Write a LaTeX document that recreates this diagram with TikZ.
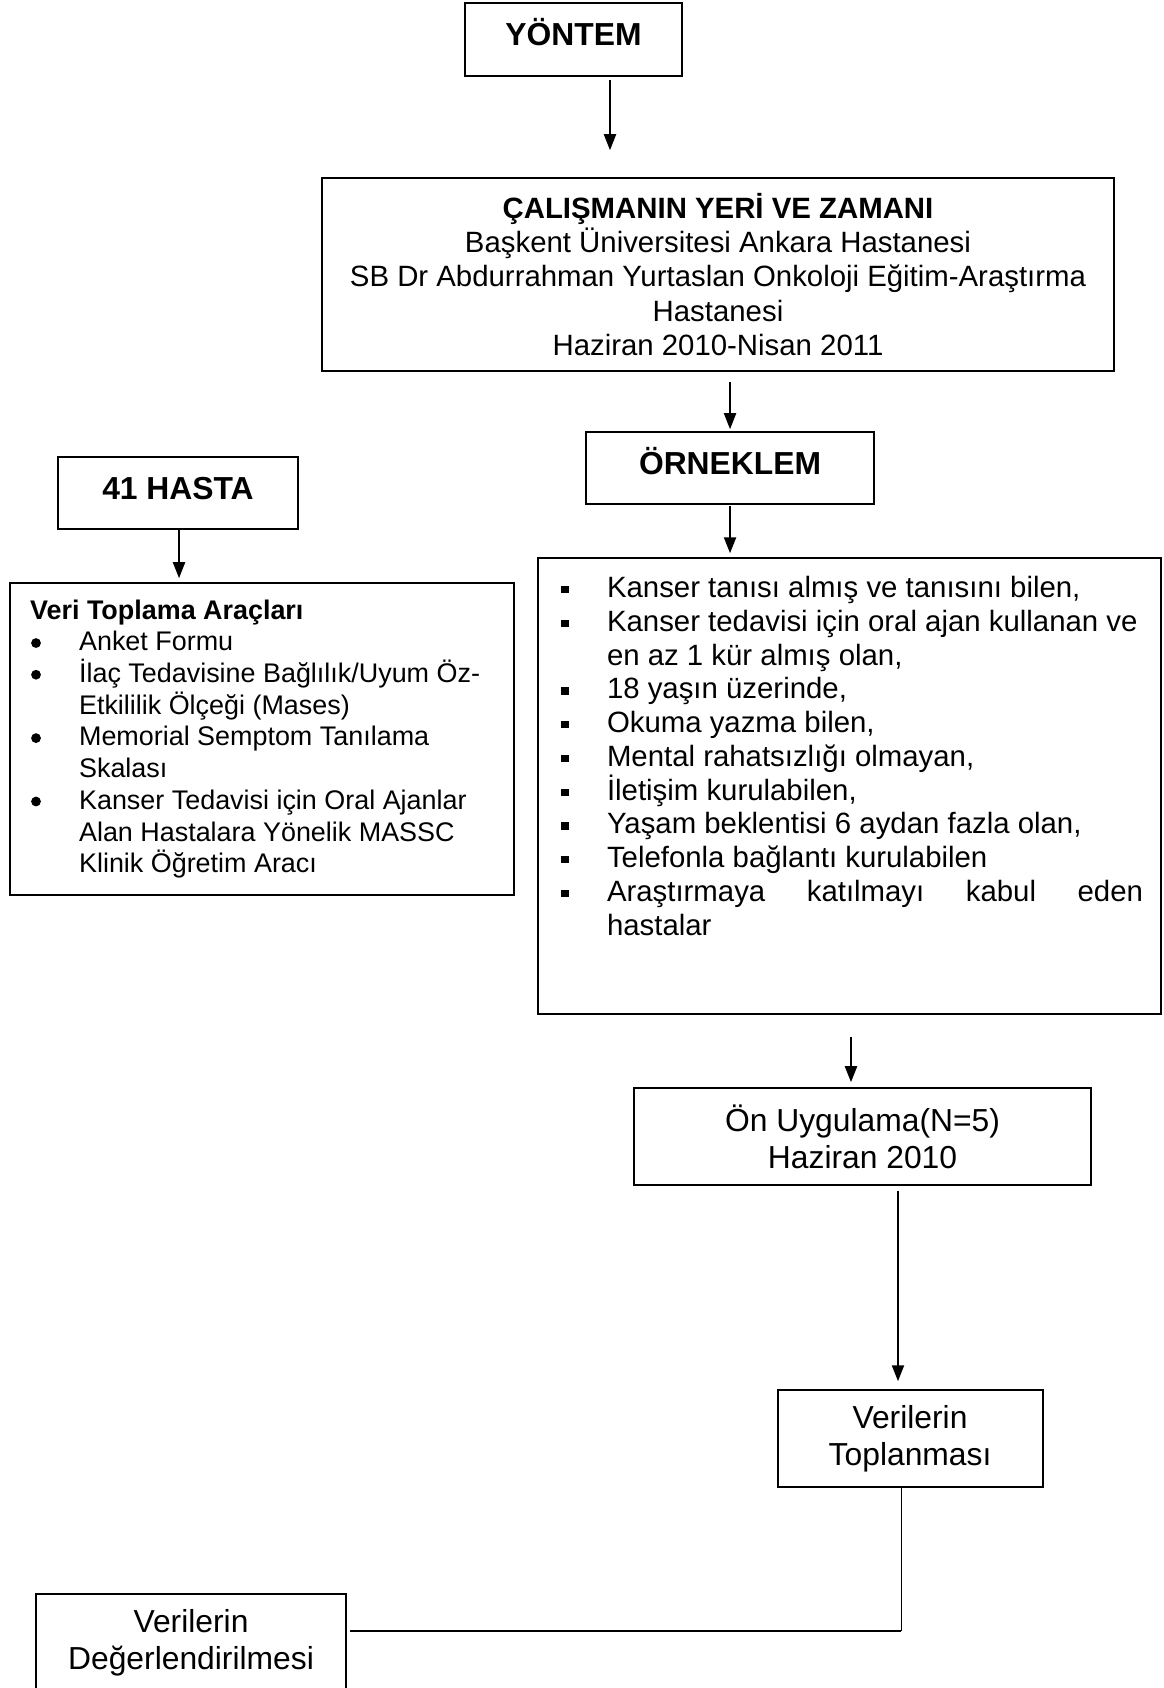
\documentclass[tikz,border=0pt]{standalone}
\usepackage{fontspec}
\setmainfont{Liberation Sans}
\usetikzlibrary{arrows.meta}
\tikzset{
  box/.style={draw=black, line width=0.8pt, inner sep=0pt},
  head/.style={box, font=\fontsize{13}{15}\selectfont\bfseries, text height=9.3pt, text depth=4pt},
  stage/.style={box, align=center, font=\fontsize{13}{15}\selectfont},
  arr/.style={-{Triangle[length=6.5pt,width=5pt]}, line width=0.6pt},
}
\newcommand{\sqbullet}{\raisebox{1.7pt}{\rule{3.2pt}{3pt}}}
\newcommand{\rdbullet}{\raisebox{1.2pt}{\tikz\fill (0,0) circle (2pt);}}
% list used inside the two text boxes
\newenvironment{boxlist}[3]{%
  \begin{list}{#1}{\setlength{\leftmargin}{#2}\setlength{\rightmargin}{#3}%
    \setlength{\labelsep}{0pt}\setlength{\labelwidth}{#2}%
    \setlength{\itemsep}{0pt}\setlength{\parsep}{0pt}%
    \setlength{\topsep}{0pt}\setlength{\partopsep}{0pt}%
    \renewcommand{\makelabel}[1]{##1\hfil}}}
  {\end{list}}

\begin{document}
\begin{tikzpicture}
\useasboundingbox (0,0) rectangle (16.702,-24.241);
% \draw[help lines] (0,0) grid (17,-24);
\node (yontem) [head, minimum width=3.116cm, minimum height=1.048cm] at (8.236,-0.567) {YÖNTEM};
\node (calisma) [box, align=center, font=\fontsize{12}{14}\selectfont, minimum width=11.374cm, minimum height=2.772cm] at (10.311,-3.942)
  {\textbf{ÇALIŞMANIN YERİ VE ZAMANI}\\
   Başkent Üniversitesi Ankara Hastanesi\\
   SB Dr Abdurrahman Yurtaslan Onkoloji Eğitim-Araştırma\\
   Hastanesi\\
   Haziran 2010-Nisan 2011};
\node (orneklem) [head, minimum width=4.136cm, minimum height=1.034cm] at (10.484,-6.721) {ÖRNEKLEM};
\node (hasta) [head, minimum width=3.447cm, minimum height=1.034cm] at (2.556,-7.080) {41 HASTA};
%
\node (veri) [box] at (3.763,-10.613) {\parbox[c][127.5pt][t]{205.9pt}{\fontsize{11}{12.95}\selectfont
  \vspace*{6.8pt}\hrule width\hsize height0pt
  \hspace*{8.2pt}\textbf{Veri Toplama Araçları}
  \begin{boxlist}{\hspace*{8.6pt}\rdbullet}{28.2pt}{4pt}
  \item Anket Formu
  \item İlaç Tedavisine Bağlılık/Uyum Öz-\\Etkililik Ölçeği (Mases)
  \item Memorial Semptom Tanılama\\Skalası
  \item Kanser Tedavisi için Oral Ajanlar\\Alan Hastalara Yönelik MASSC\\Klinik Öğretim Aracı
  \end{boxlist}}};
\node (crit) [box] at (12.200,-11.288) {\parbox[c][186.3pt][t]{254.6pt}{\fontsize{12}{13.8}\selectfont
  \vspace*{7.4pt}\hrule width\hsize height0pt
  \begin{boxlist}{\hspace*{9.4pt}\sqbullet}{28.2pt}{7.4pt}
  \item Kanser tanısı almış ve tanısını bilen,
  \item Kanser tedavisi için oral ajan kullanan ve\\en az 1 kür almış olan,
  \item 18 yaşın üzerinde,
  \item Okuma yazma bilen,
  \item Mental rahatsızlığı olmayan,
  \item İletişim kurulabilen,
  \item Yaşam beklentisi 6 aydan fazla olan,
  \item Telefonla bağlantı kurulabilen
  \item Araştırmaya \hfill katılmayı \hfill kabul \hfill eden\\hastalar
  \end{boxlist}}};
%
\node (onuyg) [stage, minimum width=6.563cm, minimum height=1.393cm] at (12.387,-16.321) {Ön Uygulama(N=5)\\Haziran 2010};
\node (toplan) [stage, minimum width=3.806cm, minimum height=1.393cm] at (13.069,-20.661) {Verilerin\\Toplanması};
\node (degerl) [stage, minimum width=4.452cm, minimum height=1.393cm] at (2.743,-23.588) {Verilerin\\Değerlendirilmesi};
%
\coordinate (a1) at (8.760,0);
\coordinate (a2) at (10.484,0);
\coordinate (a4) at (2.571,0);
\coordinate (a5) at (12.221,0);
\coordinate (a6) at (12.896,0);
\coordinate (l1) at (12.939,-23.423);
%
\draw[arr, shorten <=1.2pt, shorten >=11pt] (yontem.south -| a1) -- (calisma.north -| a1);
\draw[arr, shorten <=4.1pt, shorten >=0.8pt] (calisma.south -| a2) -- (orneklem.north -| a2);
\draw[arr, shorten <=0.4pt, shorten >=1.6pt] (orneklem.south -| a2) -- (crit.north -| a2);
\draw[arr, shorten >=1.6pt] (hasta.south -| a4) -- (veri.north -| a4);
\draw[arr, shorten <=9pt, shorten >=2pt] (crit.south -| a5) -- (onuyg.north -| a5);
\draw[arr, shorten <=2pt, shorten >=3.3pt] (onuyg.south -| a6) -- (toplan.north -| a6);
%
\draw[line width=0.4pt] (toplan.south -| l1) -- (l1);
\draw[line width=0.8pt, shorten >=1.2pt] (l1) -- (degerl.east |- l1);
\end{tikzpicture}
\end{document}
